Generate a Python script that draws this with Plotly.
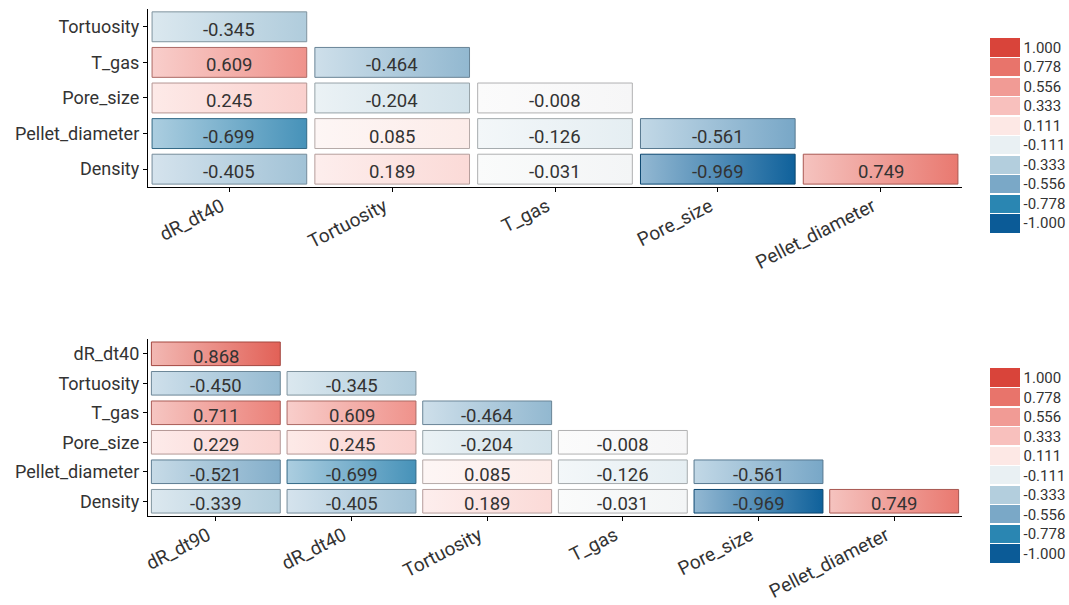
import plotly.graph_objects as go

# ---------------- data ----------------
cols_top = ['dR_dt40', 'Tortuosity', 'T_gas', 'Pore_size', 'Pellet_diameter']
rows_top = ['Tortuosity', 'T_gas', 'Pore_size', 'Pellet_diameter', 'Density']
vals_top = [
    [-0.345],
    [0.609, -0.464],
    [0.245, -0.204, -0.008],
    [-0.699, 0.085, -0.126, -0.561],
    [-0.405, 0.189, -0.031, -0.969, 0.749],
]

cols_bot = ['dR_dt90', 'dR_dt40', 'Tortuosity', 'T_gas', 'Pore_size', 'Pellet_diameter']
rows_bot = ['dR_dt40', 'Tortuosity', 'T_gas', 'Pore_size', 'Pellet_diameter', 'Density']
vals_bot = [
    [0.868],
    [-0.450, -0.345],
    [0.711, 0.609, -0.464],
    [0.229, 0.245, -0.204, -0.008],
    [-0.521, -0.699, 0.085, -0.126, -0.561],
    [-0.339, -0.405, 0.189, -0.031, -0.969, 0.749],
]

legend_labels = ['-1.000', '-0.778', '-0.556', '-0.333', '-0.111',
                 '0.111', '0.333', '0.556', '0.778', '1.000']
legend_colors = ['#0b5b97', '#2a86b2', '#7aa8c7', '#b3cedd', '#e9f0f3',
                 '#fde8e5', '#f8c0bd', '#f19b95', '#e8746b', '#d9443a']

# ---------------- helpers ----------------
anchors = [-1.0, -0.778, -0.556, -0.333, -0.111, 0.0, 0.111, 0.333, 0.556, 0.778, 1.0]
anchor_cols = ['#0b5b97', '#2a86b2', '#7aa8c7', '#b3cedd', '#e9f0f3', '#f7f7f7',
               '#fde8e5', '#f8c0bd', '#f19b95', '#e8746b', '#d9443a']


def hex2rgb(h):
    h = h.lstrip('#')
    return [int(h[i:i + 2], 16) for i in (0, 2, 4)]


def rgb2str(c):
    return 'rgb(%d,%d,%d)' % tuple(int(round(v)) for v in c)


def value_color(v):
    for k in range(len(anchors) - 1):
        if anchors[k] <= v <= anchors[k + 1]:
            t = (v - anchors[k]) / (anchors[k + 1] - anchors[k])
            a, b = hex2rgb(anchor_cols[k]), hex2rgb(anchor_cols[k + 1])
            return [a[i] + (b[i] - a[i]) * t for i in range(3)]
    return hex2rgb(anchor_cols[-1])


def mix_white(c, f):
    return [v + (255 - v) * f for v in c]


def darken(c, f):
    return [v * f for v in c]


fig = go.Figure()

FONT = 'Roboto'
TXT = '#333333'
annotations = []


def add_panel(cols, rows, vals, xa, ya, hw, hh):
    for j, row in enumerate(vals):
        for i, v in enumerate(row):
            c = value_color(v)
            left = mix_white(c, 0.55)
            fig.add_trace(go.Scatter(
                x=[i - hw, i + hw, i + hw, i - hw, i - hw],
                y=[j - hh, j - hh, j + hh, j + hh, j - hh],
                mode='lines', fill='toself',
                fillgradient=dict(type='horizontal',
                                  colorscale=[[0, rgb2str(left)], [1, rgb2str(c)]]),
                line=dict(color=rgb2str(darken(c, 0.72)), width=1),
                xaxis=xa, yaxis=ya, hoverinfo='skip', showlegend=False))
            annotations.append(dict(
                x=i, y=j, xref=xa, yref=ya, text='%.3f' % v, showarrow=False,
                yshift=-3, font=dict(family=FONT, size=18.5, color=TXT)))


add_panel(cols_top, rows_top, vals_top, 'x', 'y', 0.475, 0.42)
add_panel(cols_bot, rows_bot, vals_bot, 'x2', 'y2', 0.475, 0.40)

# discrete colour legends as colorbars
n = len(legend_colors)
cs = []
gap = 0.004
for k, col in enumerate(legend_colors):
    a = k / n + (gap if k > 0 else 0)
    b = (k + 1) / n - (gap if k < n - 1 else 0)
    if k > 0:
        cs.append([k / n - gap, 'white'])
        cs.append([a, 'white'])
    cs.append([a, col])
    cs.append([b, col])
tickvals = [-1 + (k + 0.5) * 2 / n for k in range(n)]

for ya, xa, ycen in (('y', 'x', 0.7505), ('y2', 'x2', 0.0996)):
    fig.add_trace(go.Scatter(
        x=[None, None], y=[None, None], mode='markers', xaxis=xa, yaxis=ya,
        marker=dict(color=[-1, 1], cmin=-1, cmax=1, colorscale=cs, showscale=True,
                    colorbar=dict(x=1.034, xanchor='left', y=ycen, yanchor='middle',
                                  thickness=30, len=195, lenmode='pixels',
                                  ypad=0, xpad=0, outlinewidth=0,
                                  tickvals=tickvals, ticktext=legend_labels,
                                  ticks='', tickfont=dict(family=FONT, size=15, color=TXT))),
        hoverinfo='skip', showlegend=False))

axis_common = dict(showgrid=False, zeroline=False, showline=True, linecolor='black',
                   linewidth=1.3, ticks='outside', ticklen=4, tickcolor='black',
                   mirror=False, automargin=False)
yfont = dict(family=FONT, size=18, color=TXT)
xfont = dict(family=FONT, size=19, color=TXT)
xextra = dict(tickangle=-27, ticklabelshift=-8, ticklabelstandoff=-4, tickfont=xfont)

fig.update_layout(
    width=1069, height=605,
    margin=dict(l=148, r=107, t=9, b=89, autoexpand=False),
    paper_bgcolor='white', plot_bgcolor='white',
    annotations=annotations,
    xaxis=dict(domain=[0, 1], anchor='y', range=[-0.5, len(cols_top) - 0.5],
               tickvals=list(range(len(cols_top))), ticktext=cols_top,
               **xextra, **axis_common),
    yaxis=dict(domain=[0.649, 1], anchor='x', range=[len(rows_top) - 0.5, -0.5],
               tickvals=list(range(len(rows_top))), ticktext=rows_top,
               tickfont=yfont, **axis_common),
    xaxis2=dict(domain=[0, 1], anchor='y2', range=[-0.5, len(cols_bot) - 0.5],
                tickvals=list(range(len(cols_bot))), ticktext=cols_bot,
                **xextra, **axis_common),
    yaxis2=dict(domain=[0, 0.349], anchor='x2', range=[len(rows_bot) - 0.5, -0.5],
                tickvals=list(range(len(rows_bot))), ticktext=rows_bot,
                tickfont=yfont, **axis_common),
)

fig.write_html('out.html', config={'displayModeBar': False},
               post_script="document.body.style.margin='0';"
                           "document.body.style.overflow='hidden';")
